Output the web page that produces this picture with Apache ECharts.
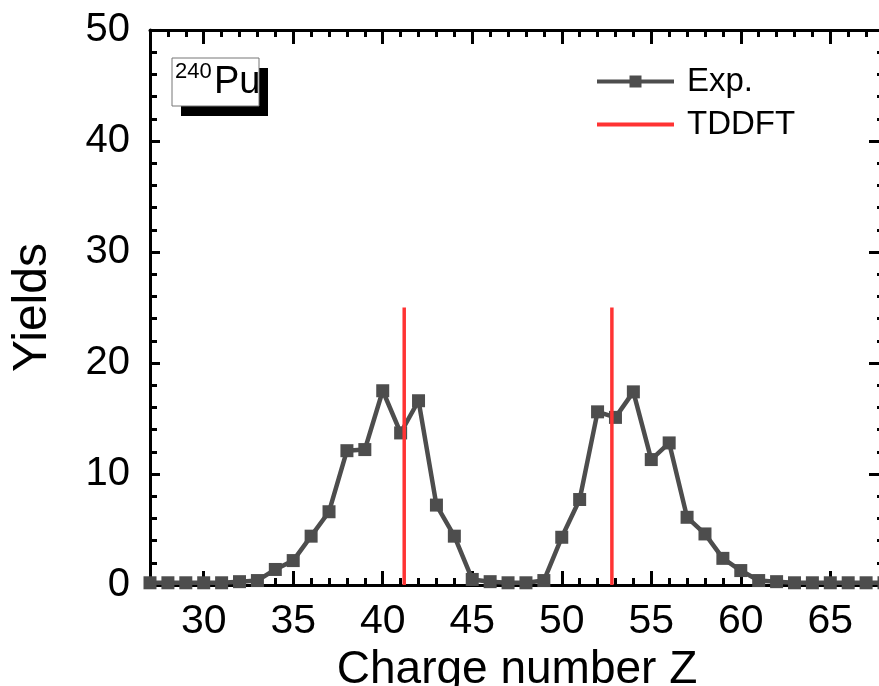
<!DOCTYPE html>
<html>
<head>
<meta charset="utf-8">
<script src="https://cdn.jsdelivr.net/npm/echarts@6/dist/echarts.min.js"></script>
<style>
  html, body { margin: 0; padding: 0; background: #fff; }
  #chart { width: 879px; height: 686px; }
</style>
</head>
<body>
<div id="chart"></div>
<script>
// Charge number Z and experimental yields (%) for 240Pu
const chargeZ = [27, 28, 29, 30, 31, 32, 33, 34, 35, 36, 37, 38, 39, 40, 41, 42, 43, 44, 45, 46, 47,
  48, 49, 50, 51, 52, 53, 54, 55, 56, 57, 58, 59, 60, 61, 62, 63, 64, 65, 66, 67, 68]
const expYields = [0.2, 0.2, 0.2, 0.2, 0.2, 0.3, 0.4, 1.4, 2.2, 4.4, 6.6, 12.1, 12.2, 17.5, 13.7, 16.6, 7.2, 4.4, 0.5, 0.3, 0.2,
  0.2, 0.4, 4.3, 7.7, 15.6, 15.1, 17.4, 11.3, 12.8, 6.1, 4.6, 2.4, 1.3, 0.4, 0.3, 0.2, 0.2, 0.2, 0.2, 0.2, 0.2]

// TDDFT fragment charges (vertical lines from 0 up to tddftHeight)
const tddftZ = [41.2, 52.8]
const tddftHeight = 25

const xMajorTicks = [30, 35, 40, 45, 50, 55, 60, 65]
const xMinorTicks = []
for (let z = 28; z <= 67; z++) if (z % 5 !== 0) xMinorTicks.push(z)

const FONT = "'Liberation Sans', Arial, sans-serif"
const AXIS_COLOR = '#000'

const chart = echarts.init(document.getElementById('chart'))

function xAxisCfg(position, ticks, len, withLabels) {
  return {
    type: 'value',
    position: position,
    min: 27,
    max: 68,
    splitLine: { show: false },
    axisLine: { show: withLabels !== null, onZero: false, lineStyle: { color: AXIS_COLOR, width: 3 } },
    axisTick: { show: true, inside: true, length: len, customValues: ticks, lineStyle: { color: AXIS_COLOR, width: 3 } },
    axisLabel: withLabels ? {
      show: true, customValues: ticks, color: '#000', fontSize: 41, fontFamily: FONT, margin: 16
    } : { show: false }
  }
}

const expData = chargeZ.map((z, i) => [z, expYields[i]])

const tddftSeries = tddftZ.map(z => ({
  name: 'TDDFT',
  type: 'line',
  data: [[z, 0], [z, tddftHeight]],
  symbol: 'none',
  lineStyle: { color: '#ff3333', width: 3.5 },
  itemStyle: { color: 'rgba(255,0,0,0)' },
  z: 5,
  silent: true
}))

const option = {
  animation: false,
  backgroundColor: '#fff',
  grid: { left: 150, right: -5, top: 30, bottom: 101, outerBoundsMode: 'none', containLabel: false },
  legend: {
    data: ['Exp.', 'TDDFT'],
    orient: 'vertical',
    left: 590,
    top: 60,
    itemWidth: 77,
    itemHeight: 15,
    itemGap: 10,
    lineStyle: { width: 4 },
    textStyle: { color: '#000', fontSize: 33, fontFamily: FONT, padding: [0, 0, 0, 8] }
  },
  xAxis: [
    Object.assign(xAxisCfg('bottom', xMajorTicks, 14, true), {
      name: 'Charge number Z',
      nameLocation: 'middle',
      nameGap: 61,
      nameTextStyle: { color: '#000', fontSize: 46, fontFamily: FONT }
    }),
    xAxisCfg('bottom', xMinorTicks, 7, null),
    xAxisCfg('top', xMajorTicks, 14, false),
    xAxisCfg('top', xMinorTicks, 7, null)
  ],
  yAxis: [
    {
      type: 'value',
      position: 'left',
      min: 0,
      max: 50,
      interval: 10,
      name: 'Yields',
      nameLocation: 'middle',
      nameGap: 93,
      nameTextStyle: { color: '#000', fontSize: 48, fontFamily: FONT },
      splitLine: { show: false },
      axisLine: { show: true, onZero: false, lineStyle: { color: AXIS_COLOR, width: 3 } },
      axisTick: { show: true, inside: true, length: 10, lineStyle: { color: AXIS_COLOR, width: 3 } },
      minorTick: { show: true, splitNumber: 5, length: 7, lineStyle: { color: AXIS_COLOR, width: 3 } },
      axisLabel: { color: '#000', fontSize: 40, fontFamily: FONT, margin: 20 }
    },
    {
      type: 'value',
      position: 'right',
      min: 0,
      max: 50,
      interval: 10,
      splitLine: { show: false },
      axisLine: { show: true, onZero: false, lineStyle: { color: AXIS_COLOR, width: 3 } },
      axisTick: { show: true, inside: true, length: 15, lineStyle: { color: AXIS_COLOR, width: 3 } },
      minorTick: { show: true, splitNumber: 5, length: 7, lineStyle: { color: AXIS_COLOR, width: 3 } },
      axisLabel: { show: false }
    }
  ],
  series: [
    {
      name: 'Exp.',
      type: 'line',
      data: expData,
      symbol: 'rect',
      symbolSize: 13,
      lineStyle: { color: '#4d4d4d', width: 4.5 },
      itemStyle: { color: '#4d4d4d' },
      z: 4
    }
  ].concat(tddftSeries),
  graphic: [
    { type: 'rect', shape: { x: 181, y: 68, width: 87, height: 48 }, style: { fill: '#000' } },
    { type: 'rect', shape: { x: 172, y: 58, width: 87, height: 48 }, style: { fill: '#fff', stroke: '#777', lineWidth: 1 } },
    { type: 'text', x: 175, y: 61, style: { text: '240', fill: '#000', fontSize: 22, fontFamily: FONT } },
    { type: 'text', x: 214, y: 64, style: { text: 'Pu', fill: '#000', fontSize: 38, fontFamily: FONT } }
  ]
}

chart.setOption(option)
</script>
</body>
</html>
